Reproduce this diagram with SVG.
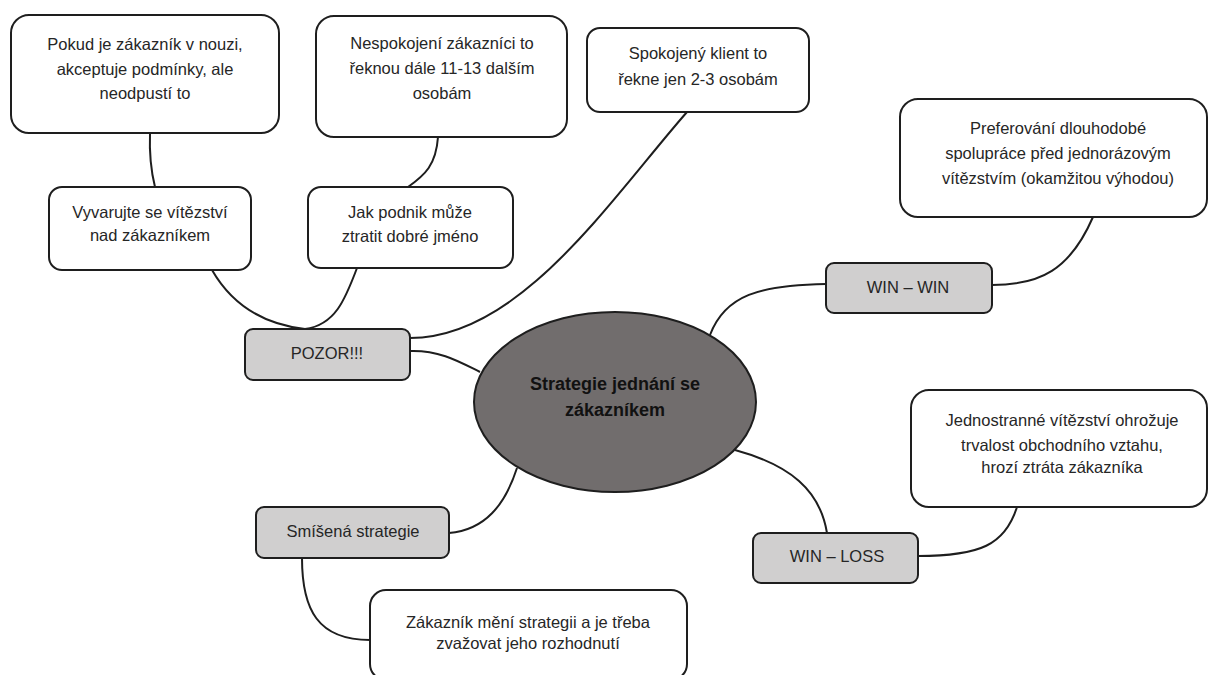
<svg xmlns="http://www.w3.org/2000/svg" width="1211" height="675" viewBox="0 0 1211 675">
  <style>
    .box { fill: #ffffff; stroke: #1e1e1e; stroke-width: 2; }
    .tag { fill: #d0cfcf; stroke: #1e1e1e; stroke-width: 2; }
    .hub { fill: #716d6d; stroke: #1e1e1e; stroke-width: 2; }
    .link { fill: none; stroke: #1e1e1e; stroke-width: 2; }
    text { font-family: "Liberation Sans", Arial, sans-serif; font-size: 16.5px; fill: #262626; text-anchor: middle; }
    .bold { font-weight: bold; font-size: 18px; fill: #111111; }
  </style>
  <rect width="1211" height="675" fill="#ffffff"/>

  <!-- connectors -->
  <g id="connectors">
    <path class="link" d="M150,133 C149,160 152,175 155,187"/>
    <path class="link" d="M438,137 C436,165 425,175 408,187"/>
    <path class="link" d="M212,270 C235,310 270,325 305,329"/>
    <path class="link" d="M357,268 C345,300 335,325 305,329"/>
    <path class="link" d="M687,112 C610,200 520,338 410,338"/>
    <path class="link" d="M410,351 C440,350 460,362 480,372"/>
    <path class="link" d="M710,335 C725,295 760,285 826,284"/>
    <path class="link" d="M1093,217 C1070,270 1040,285 992,285"/>
    <path class="link" d="M735,450 C790,465 820,490 827,533"/>
    <path class="link" d="M1017,507 C1005,545 980,556 918,556"/>
    <path class="link" d="M517,468 C505,505 485,530 449,533"/>
    <path class="link" d="M302,558 C302,610 318,640 370,640"/>
  </g>

  <g id="node-nouze">
    <rect class="box" x="11" y="15" width="268" height="118" rx="18"/>
    <text x="145" y="50">Pokud je zákazník v nouzi,</text>
    <text x="145" y="75">akceptuje podmínky, ale</text>
    <text x="145" y="99">neodpustí to</text>
  </g>

  <g id="node-vyvarujte">
    <rect class="box" x="49" y="187" width="202" height="83" rx="13"/>
    <text x="150" y="218">Vyvarujte se vítězství</text>
    <text x="150" y="241">nad zákazníkem</text>
  </g>

  <g id="node-nespokojeni">
    <rect class="box" x="316" y="16" width="251" height="121" rx="18"/>
    <text x="442" y="49">Nespokojení zákazníci to</text>
    <text x="442" y="74">řeknou dále 11-13 dalším</text>
    <text x="442" y="99">osobám</text>
  </g>

  <g id="node-jmeno">
    <rect class="box" x="308" y="187" width="205" height="81" rx="13"/>
    <text x="410" y="218">Jak podnik může</text>
    <text x="410" y="242">ztratit dobré jméno</text>
  </g>

  <g id="node-spokojeny">
    <rect class="box" x="587" y="28" width="222" height="84" rx="13"/>
    <text x="698" y="59">Spokojený klient to</text>
    <text x="698" y="85">řekne jen 2-3 osobám</text>
  </g>

  <g id="node-pozor">
    <rect class="tag" x="245" y="329" width="165" height="51" rx="8"/>
    <text x="327" y="359">POZOR!!!</text>
  </g>

  <g id="node-center">
    <ellipse class="hub" cx="615" cy="402" rx="141" ry="90"/>
    <text class="bold" x="615" y="390">Strategie jednání se</text>
    <text class="bold" x="615" y="416">zákazníkem</text>
  </g>

  <g id="node-preferovani">
    <rect class="box" x="900" y="99" width="307" height="118" rx="18"/>
    <text x="1058" y="134">Preferování dlouhodobé</text>
    <text x="1058" y="159">spolupráce před jednorázovým</text>
    <text x="1058" y="184">vítězstvím (okamžitou výhodou)</text>
  </g>

  <g id="node-winwin">
    <rect class="tag" x="826" y="263" width="166" height="50" rx="8"/>
    <text x="908" y="293">WIN – WIN</text>
  </g>

  <g id="node-jednostranne">
    <rect class="box" x="911" y="390" width="296" height="117" rx="18"/>
    <text x="1062" y="426">Jednostranné vítězství ohrožuje</text>
    <text x="1062" y="451">trvalost obchodního vztahu,</text>
    <text x="1062" y="473">hrozí ztráta zákazníka</text>
  </g>

  <g id="node-winloss">
    <rect class="tag" x="753" y="533" width="165" height="50" rx="8"/>
    <text x="837" y="562">WIN – LOSS</text>
  </g>

  <g id="node-smisena">
    <rect class="tag" x="256" y="507" width="193" height="51" rx="8"/>
    <text x="353" y="537">Smíšená strategie</text>
  </g>

  <g id="node-zmena">
    <rect class="box" x="370" y="590" width="317" height="90" rx="16"/>
    <text x="528" y="628">Zákazník mění strategii a je třeba</text>
    <text x="528" y="649">zvažovat jeho rozhodnutí</text>
  </g>
</svg>
